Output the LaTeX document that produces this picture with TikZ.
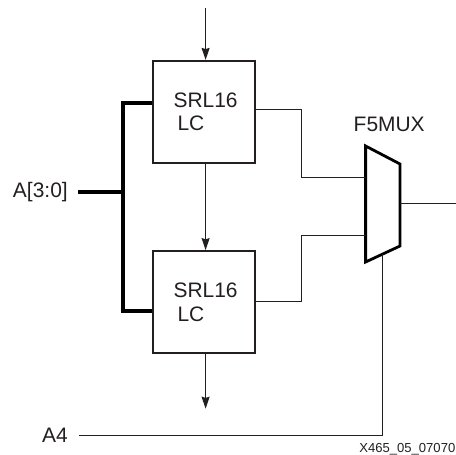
\documentclass[tikz,border=0pt]{standalone}
\usepackage{fontspec}
\setmainfont{Liberation Sans}
\usepackage{xcolor}
\usetikzlibrary{positioning,arrows.meta,calc}
\definecolor{blk}{HTML}{231F20}
\tikzset{
  >={Stealth[length=3mm, width=2mm, inset=0.3mm]},
  srlbox/.style={draw=blk, line width=0.55mm, minimum width=25.5mm, minimum height=25.5mm,
                 inner sep=0pt, align=left, font=\fontsize{14.9}{15.6}\selectfont, text=blk},
  muxbox/.style={draw=black, line width=0.7mm, line join=miter, fill=white},
  sig/.style={font=\fontsize{14.9}{16.4}\selectfont, text=blk, inner sep=0pt},
  tag/.style={font=\fontsize{9.3}{11}\selectfont, text=blk, inner sep=0pt},
  l/.style={draw=blk, line width=0.3mm},
  bus/.style={draw=black, line width=1mm, line join=miter},
}
\begin{document}
\begin{tikzpicture}[node distance=22mm]
  \useasboundingbox (0,0) rectangle (114mm,-113.75mm);
  \node[srlbox] (srla) at (50.9mm,-28mm) {\hspace*{1mm}SRL16\\[1pt]\hspace*{2mm}LC};
  \node[srlbox, below=21.5mm of srla] (srlb) {\hspace*{1mm}SRL16\\[1pt]\hspace*{2mm}LC};
  % mux corners
  \coordinate (mta) at (91.4mm,-36.5mm);
  \coordinate (mtb) at (100mm,-41mm);
  \coordinate (mbb) at (100mm,-61.5mm);
  \coordinate (mba) at (91.4mm,-65.5mm);
  \draw[muxbox] (mta) -- (mtb) -- (mbb) -- (mba) -- cycle;
  \node[sig, above=3.4mm of mta, xshift=5.9mm] (fmux) {F5MUX};
  \node[sig, anchor=east] (addr) at (17mm,-48.1mm) {A[3:0]};
  \node[sig, anchor=east] (afour) at (17mm,-108.9mm) {A4};
  \node[tag, anchor=east] (code) at (113.9mm,-112.2mm) {X465\_05\_07070};
  % free ends
  \coordinate (topin) at ($(srla.north)+(0.5mm,13mm)$);
  \coordinate (botout) at ($(srlb.south)+(0.5mm,-13.6mm)$);
  \coordinate (muxout) at (114mm,-50.9mm);
  \coordinate (busx) at (30.8mm,-48.1mm);
  % control inputs
  \draw[l,->] (topin) -- (topin |- srla.north);
  \draw[l,->] ($(srla.south)+(0.5mm,0)$) -- ($(srlb.north)+(0.5mm,0)$);
  \draw[l,->] ($(srlb.south)+(0.5mm,0)$) -- (botout);
  % address bus
  \draw[bus] ($(srla.west)+(0,2.2mm)$) -| (busx) |- ($(srlb.west)+(0,-2.2mm)$);
  \draw[bus] ($(addr.east)+(2.6mm,0)$) -- (busx);
  % mux inputs
  \draw[l] ($(srla.east)+(0,0.7mm)$) -- ++(11.5mm,0) |- ($(mta)+(0,-7.8mm)$);
  \draw[l] ($(srlb.east)+(0,0.2mm)$) -- ++(11.5mm,0) |- ($(mta)+(0,-22.4mm)$);
  \draw[l] (mtb |- muxout) -- (muxout);
  % select
  \draw[l] ($(afour.east)+(2.7mm,0)$) -| ($(mba)+(4.3mm,2mm)$);
\end{tikzpicture}
\end{document}
